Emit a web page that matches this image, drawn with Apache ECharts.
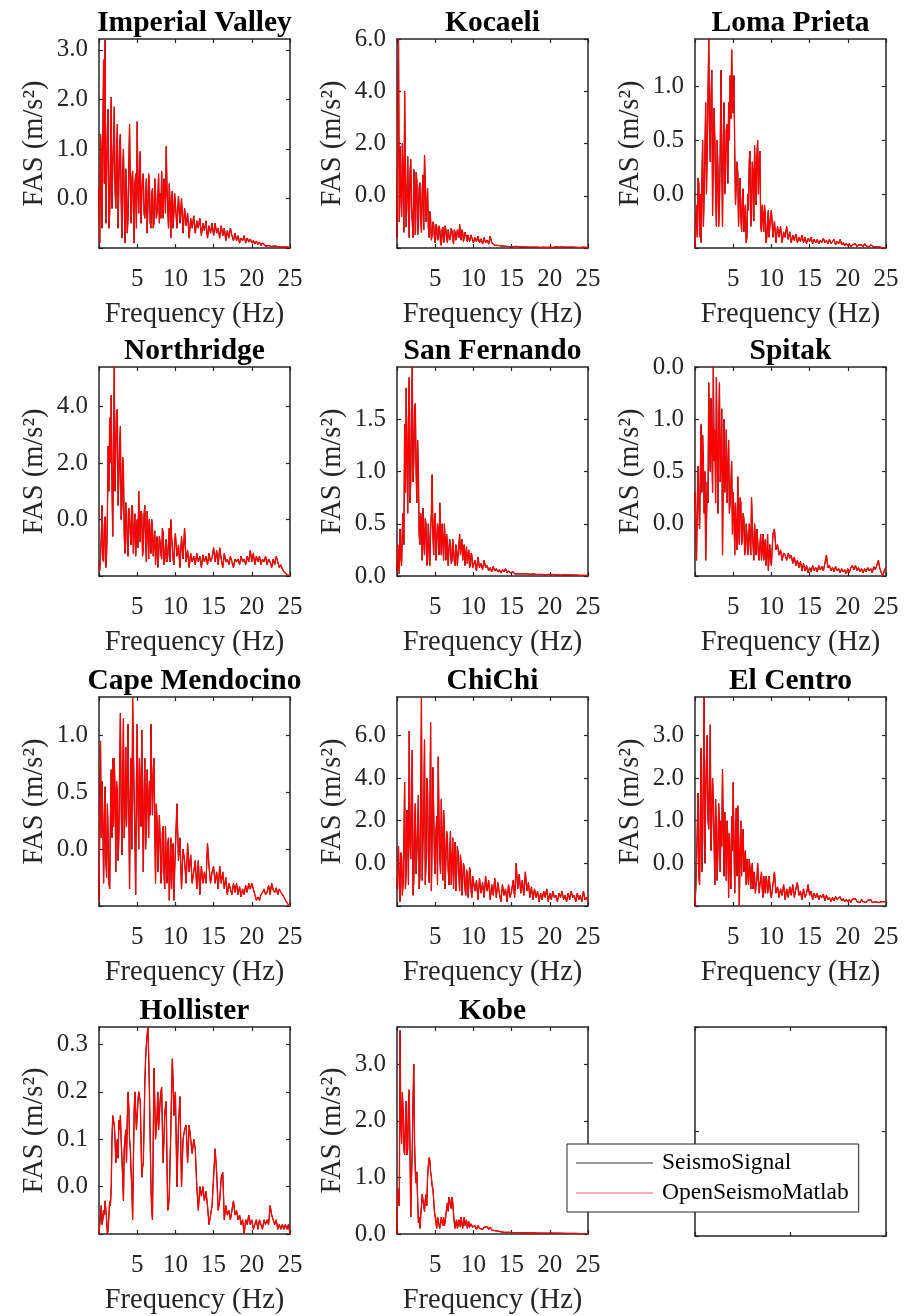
<!DOCTYPE html>
<html>
<head>
<meta charset="utf-8">
<script src="https://cdn.jsdelivr.net/npm/echarts@6/dist/echarts.min.js"></script>
<style>
html,body{margin:0;padding:0;background:#fff;}
#chart{width:907px;height:1316px;}
</style>
</head>
<body>
<div id="chart"></div>
<script>
// ---------- DATA ----------
const freq = [0,0.1,0.2,0.3,0.4,0.5,0.6,0.7,0.8,0.9,1,1.1,1.2,1.3,1.4,1.5,1.6,1.7,1.8,1.9,2,2.1,2.2,2.3,2.4,2.5,2.6,2.7,2.8,2.9,3,3.1,3.2,3.3,3.4,3.5,3.6,3.7,3.8,3.9,4,4.1,4.2,4.3,4.4,4.5,4.6,4.7,4.8,4.9,5,5.1,5.2,5.3,5.4,5.5,5.6,5.7,5.8,5.9,6,6.1,6.2,6.3,6.4,6.5,6.6,6.7,6.8,6.9,7,7.1,7.2,7.3,7.4,7.5,7.6,7.7,7.8,7.9,8,8.1,8.2,8.3,8.4,8.5,8.6,8.7,8.8,8.9,9,9.1,9.2,9.3,9.4,9.5,9.6,9.7,9.8,9.9,
10,10.2,10.4,10.6,10.8,11,11.2,11.4,11.6,11.8,12,12.2,12.4,12.6,12.8,13,13.2,13.4,13.6,13.8,14,14.2,14.4,14.6,14.8,15,15.2,15.4,15.6,15.8,16,16.2,16.4,16.6,16.8,17,17.2,17.4,17.6,17.8,18,18.2,18.4,18.6,18.8,19,19.2,19.4,19.6,19.8,20,20.2,20.4,20.6,20.8,21,21.2,21.4,21.6,21.8,22,22.2,22.4,22.6,22.8,23,23.2,23.4,23.6,23.8,24,24.2,24.4,24.6,24.8,25];

const titles = ['Imperial Valley','Kocaeli','Loma Prieta','Northridge','San Fernando','Spitak','Cape Mendocino','ChiChi','El Centro','Hollister','Kobe'];
const seriesNames = ['SeismoSignal','OpenSeismoMatlab'];
const xName = 'Frequency (Hz)';
const yName = 'FAS (m/s²)';
const xTickValues = [0,5,10,15,20,25];
const xLabelValues = [5,10,15,20,25];

const yMins = [-1,-2,-0.5,-2,0,-0.5,-0.5,-2,-1,-0.1,0];
const yMaxs = [3.22,6,1.44,5.4,2.0,1.5,1.34,7.8,3.9,0.337,3.66];
const yTicks = [
  [-1,0,1,2,3],[-2,0,2,4,6],[-0.5,0,0.5,1],[-2,0,2,4],[0,0.5,1,1.5],[-0.5,0,0.5,1,1.5],
  [-0.5,0,0.5,1],[-2,0,2,4,6],[-1,0,1,2,3],[-0.1,0,0.1,0.2,0.3],[0,1,2,3]
];
const yTickLabels = [
  ['','0.0','1.0','2.0','3.0'],['','0.0','2.0','4.0','6.0'],['','0.0','0.5','1.0'],['','0.0','2.0','4.0'],
  ['0.0','0.5','1.0','1.5'],['','0.0','0.5','1.0','0.0'],['','0.0','0.5','1.0'],['','0.0','2.0','4.0','6.0'],
  ['','0.0','1.0','2.0','3.0'],['','0.0','0.1','0.2','0.3'],['0.0','1.0','2.0','3.0']
];

const imperialValley = [
  0.2,-0.9,1.3,0.9,-0.6,1.2,2.8,0.3,3.2,-0.5, 0.4,1.4,1.8,-0.6,-0.3,0.8,2.05,-0.2,0.6,1.1,
  1.85,0.2,-0.2,0.9,1.5,-0.6,0.3,1.1,1.3,0.0, -0.8,0.5,1.0,0.0,-0.9,0.6,0.2,-0.7,-0.4,0.6,
  1.5,0.2,-0.5,0.4,0.55,-0.2,-0.9,0.3,0.5,-0.6, 1.55,0.2,-0.3,0.6,0.95,-0.5,0.1,0.4,0.5,-0.3,
  -0.4,0.0,0.4,-0.7,-0.2,0.5,0.3,-0.5,-0.6,0.1, 0.2,-0.6,-0.5,0.4,0.15,-0.4,-0.3,0.0,0.5,-0.5,
  0.1,-0.4,0.55,-0.1,-0.4,0.4,0.3,-0.3,1.05,0.2, -0.2,-0.6,0.3,-0.1,-0.8,0.05,0.15,-0.6,-0.3,0.1,
  -0.1,-0.6,0.05,-0.5,0.0, -0.7,-0.2,-0.55,-0.3,-0.8, -0.4,-0.6,-0.35,-0.7,-0.45, -0.6,-0.4,-0.75,-0.5,-0.65, -0.45,-0.8,-0.55,-0.7,-0.5, -0.75,-0.5,-0.7,-0.6,-0.8, -0.55,-0.75,-0.6,-0.85,-0.65, -0.8,-0.6,-0.75,-0.85,-0.7, -0.85,-0.75,-0.9,-0.8,-0.85, -0.75,-0.9,-0.8,-0.88,-0.82, -0.9,-0.85,-0.92,-0.86,-0.93, -0.88,-0.95,-0.9,-0.93,-0.96, -0.92,-0.95,-0.93,-0.97,-0.94, -0.96,-0.93,-0.97,-0.95,-0.98, -0.96,-0.98,-0.95,-0.98,-0.97, -0.99];
const kocaeli = [
  -1.6,2.8,6.0,-1.0,1.9,0.2,-0.8,2.0,0.5,-1.4, 4.0,0.8,-1.2,0.0,1.5,-0.6,-1.6,0.9,1.4,-0.4,
  -1.0,-1.6,1.0,0.2,-1.5,0.9,0.6,-1.5,-1.2,0.3, 0.5,-0.8,-1.4,0.2,0.8,-1.3,1.55,0.5,-1.0,-0.4,
  0.3,-1.2,-1.6,-0.6,-0.9,-1.7,-1.5,-1.0,-1.1,-1.6, -1.8,-1.1,-1.2,-1.7,-1.6,-1.15,-1.3,-1.8,-1.9,-1.3,
  -1.2,-1.8,-1.7,-1.15,-1.3,-1.6,-1.8,-1.3,-1.25,-1.7, -1.6,-1.25,-1.35,-1.6,-1.85,-1.3,-1.4,-1.7,-1.6,-1.3,
  -1.3,-1.6,-1.1,-1.5,-1.7,-1.3,-1.4,-1.75,-1.6,-1.4, -1.5,-1.6,-1.75,-1.5,-1.45,-1.75,-1.7,-1.5,-1.55,-1.7,
  -1.8,-1.6,-1.75,-1.55,-1.8, -1.65,-1.85,-1.6,-1.8,-1.7, -1.85,-1.55,-1.8,-1.75,-1.9, -1.85,-1.9,-1.87,-1.92,-1.88, -1.93,-1.9,-1.94,-1.91,-1.95, -1.92,-1.95,-1.9,-1.94,-1.92, -1.95,-1.93,-1.96,-1.94,-1.96, -1.95,-1.97,-1.95,-1.97,-1.96, -1.97,-1.95,-1.97,-1.96,-1.98, -1.96,-1.97,-1.95,-1.98,-1.97, -1.97,-1.96,-1.98,-1.97,-1.96, -1.98,-1.97,-1.98,-1.96,-1.98, -1.97,-1.98,-1.97,-1.98,-1.97, -1.98,-1.97,-1.98,-1.98,-1.97, -1.98,-1.98,-1.97,-1.98,-1.98, -1.98];
const lomaPrieta = [
  -0.5,-0.3,-0.1,-0.4,0.15,0.1,-0.4,0.0,-0.45,0.1, 0.5,-0.3,0.0,0.4,0.85,0.0,0.4,0.9,1.44,0.6,
  0.3,0.9,1.15,-0.2,0.4,0.8,0.5,0.0,-0.3,0.5, 0.25,-0.3,-0.1,0.4,1.15,0.3,-0.3,0.5,0.85,0.0,
  0.2,0.6,0.65,0.1,0.85,0.5,1.1,0.7,1.34,0.9, 0.75,1.1,0.4,-0.1,-0.1,0.3,0.2,-0.3,0.0,0.15,
  -0.2,-0.35,-0.05,0.05,-0.35,-0.2,-0.1,-0.45,-0.4,0.0, -0.15,0.3,0.4,-0.3,-0.2,0.3,0.2,-0.25,0.45,0.15,
  -0.1,0.35,0.5,0.0,0.3,0.4,-0.3,-0.35,-0.1,-0.2, -0.35,-0.1,-0.2,-0.45,-0.4,-0.25,-0.15,-0.4,-0.3,-0.2,
  -0.15,-0.4,-0.25,-0.45,-0.3, -0.4,-0.3,-0.45,-0.35,-0.4, -0.3,-0.42,-0.35,-0.45,-0.38, -0.43,-0.37,-0.45,-0.4,-0.44, -0.38,-0.45,-0.4,-0.46,-0.41, -0.44,-0.4,-0.46,-0.42,-0.45, -0.42,-0.46,-0.43,-0.45,-0.41, -0.45,-0.43,-0.46,-0.42,-0.46, -0.44,-0.42,-0.47,-0.44,-0.46, -0.42,-0.47,-0.45,-0.48,-0.46, -0.48,-0.46,-0.49,-0.47,-0.48, -0.46,-0.49,-0.47,-0.48,-0.47, -0.49,-0.46,-0.48,-0.47,-0.49, -0.47,-0.48,-0.49,-0.48,-0.49, -0.48,-0.49,-0.49,-0.5,-0.49, -0.5];
const northridge = [
  -1.6,-1.8,-1.3,-0.6,0.5,-1.4,-1.5,-0.2,0.1,-1.7, -1.2,0.2,2.6,1.0,3.6,2.0,4.4,1.2,-0.6,2.6,
  5.4,1.0,2.4,3.8,3.9,0.5,1.5,2.6,3.3,0.0, 0.5,2.2,1.8,-0.5,-1.2,0.6,0.3,-0.8,-1.3,0.4,
  0.2,-0.5,-0.9,0.5,0.3,-1.2,-0.4,0.2,-1.3,-0.6, 0.0,-1.0,1.0,-0.2,-0.8,0.3,0.2,-1.3,-1.0,0.2,
  0.5,-0.8,-1.5,0.3,-0.2,-1.4,0.0,-0.6,-1.2,0.0, -0.3,-1.3,-0.8,-0.4,-1.6,-1.0,-0.6,-1.7,-1.3,-0.6,
  -0.8,-1.2,-1.4,-0.3,-0.5,-1.6,-1.5,-0.9,-0.7,-1.5, -1.3,-0.8,-0.3,-1.5,0.0,-0.6,-1.0,-1.4,-1.6,-0.8,
  -0.5,-1.3,-0.9,-1.7,-0.6, -1.4,-0.3,-1.5,-1.1,-1.7, -1.2,-1.5,-1.3,-1.6,-1.2, -1.5,-1.3,-1.7,-1.25,-1.5, -1.3,-1.6,-1.2,-1.5,-1.35, -1.0,-1.5,-1.1,-1.6,-1.0, -1.4,-1.7,-1.2,-1.5,-1.4, -1.6,-1.3,-1.5,-1.7,-1.4, -1.5,-1.4,-1.6,-1.3,-1.5, -1.4,-1.6,-1.3,-1.5,-1.1, -1.5,-1.2,-1.6,-1.3,-1.5, -1.3,-1.6,-1.4,-1.5,-1.3, -1.6,-1.4,-1.5,-1.7,-1.4, -1.6,-1.3,-1.5,-1.7,-1.6, -1.75,-1.85,-1.9,-1.95,-1.98, -2.0];
const sanFernando = [
  0.05,0.3,0.15,0.02,0.45,0.2,0.1,0.45,0.6,0.3, 1.45,0.8,1.8,1.2,0.6,1.5,1.9,0.7,0.9,1.6,
  2.0,0.9,1.1,1.6,1.65,1.0,0.7,1.3,1.0,0.4, 0.3,0.6,0.5,0.15,0.65,0.35,0.2,0.55,0.5,0.1,
  0.15,0.5,0.3,0.1,0.45,0.6,0.97,0.4,0.2,0.55, 0.6,0.15,0.3,0.5,0.45,0.2,0.7,0.4,0.2,0.5,
  0.35,0.15,0.5,0.35,0.15,0.4,0.3,0.1,0.25,0.35, 0.3,0.12,0.15,0.35,0.25,0.15,0.1,0.3,0.25,0.1,
  0.2,0.3,0.4,0.2,0.3,0.35,0.15,0.25,0.3,0.1, 0.2,0.28,0.12,0.2,0.25,0.08,0.1,0.22,0.2,0.08,
  0.1,0.15,0.05,0.18,0.08, 0.12,0.06,0.15,0.08,0.1, 0.05,0.08,0.04,0.09,0.05, 0.07,0.04,0.06,0.03,0.06, 0.04,0.07,0.03,0.05,0.03, 0.02,0.04,0.02,0.03,0.02, 0.03,0.02,0.03,0.02,0.025, 0.02,0.03,0.015,0.025,0.02, 0.025,0.015,0.02,0.015,0.02, 0.015,0.02,0.012,0.018,0.015, 0.012,0.016,0.01,0.014,0.012, 0.01,0.013,0.009,0.012,0.01, 0.009,0.011,0.008,0.01,0.008, 0.009,0.007,0.009,0.008,0.007, 0.008,0.006,0.007,0.006,0.007, 0.006];
const spitak = [
  0.3,0.0,-0.35,0.2,0.55,0.2,-0.05,0.5,0.95,0.3, 0.85,0.6,0.1,0.5,-0.35,0.0,0.4,0.2,1.35,0.8,
  0.5,1.2,0.75,0.3,1.5,0.6,0.9,0.2,1.4,0.7, 0.1,0.9,1.35,0.4,0.6,1.1,-0.3,0.5,1.0,0.3,
  0.5,0.9,0.2,0.5,0.8,0.1,0.2,0.4,0.6,-0.1, 0.3,0.1,-0.3,0.2,-0.1,-0.25,0.45,0.0,-0.2,0.25,
  0.2,-0.2,-0.15,0.1,0.05,-0.3,-0.25,0.0,-0.1,-0.3, -0.25,0.0,-0.1,-0.3,0.25,0.0,-0.2,-0.35,0.0,-0.15,
  -0.3,-0.05,-0.15,-0.3,-0.35,-0.2,-0.1,-0.35,-0.25,-0.1, -0.35,-0.25,-0.15,-0.4,-0.3,-0.1,-0.45,-0.3,-0.2,-0.35,
  -0.4,-0.1,-0.05,-0.25,-0.2, -0.3,-0.25,-0.35,-0.28,-0.3, -0.35,-0.28,-0.33,-0.3,-0.38, -0.32,-0.4,-0.35,-0.42,-0.36, -0.45,-0.38,-0.45,-0.4,-0.47, -0.42,-0.46,-0.4,-0.45,-0.42, -0.46,-0.4,-0.44,-0.41,-0.45, -0.38,-0.3,-0.42,-0.4,-0.45, -0.42,-0.46,-0.41,-0.45,-0.43, -0.47,-0.43,-0.46,-0.44,-0.48, -0.43,-0.47,-0.42,-0.4,-0.44, -0.4,-0.45,-0.42,-0.46,-0.43, -0.47,-0.43,-0.46,-0.42,-0.45, -0.43,-0.47,-0.41,-0.44,-0.4, -0.35,-0.43,-0.47,-0.5,-0.44, -0.42];
const capeMendocino = [
  -0.45,0.2,0.95,0.1,0.6,0.3,-0.3,0.2,0.55,-0.1, -0.25,0.4,0.1,-0.3,-0.35,0.3,0.7,0.1,0.8,0.2,
  0.8,0.5,-0.2,0.6,0.5,-0.1,0.1,0.7,1.2,0.4, -0.05,0.6,1.15,0.1,0.3,0.9,0.2,0.6,1.1,0.4,
  -0.35,0.5,0.8,0.0,1.34,0.9,0.45,0.1,-0.4,0.6, 1.1,0.4,0.0,0.8,0.5,0.2,1.05,0.4,-0.2,0.5,
  0.8,0.0,0.2,0.7,0.45,0.1,0.6,0.3,1.1,0.6, 0.3,0.7,0.8,0.2,-0.3,0.4,0.25,-0.2,0.0,0.3,
  0.1,-0.3,-0.2,0.15,0.2,-0.2,-0.35,0.2,-0.1,-0.3, 0.05,0.1,-0.45,-0.2,0.1,-0.35,-0.1,0.05,-0.45,-0.2,
  0.0,0.4,-0.1,0.1,-0.35, 0.0,-0.1,-0.3,0.05,-0.2, -0.05,-0.3,-0.2,-0.1,-0.35, -0.1,-0.4,-0.15,-0.3,-0.2, -0.3,0.05,-0.15,-0.3,-0.2, -0.15,-0.3,-0.2,-0.35,-0.15, -0.3,-0.2,-0.35,-0.25,-0.4, -0.3,-0.35,-0.4,-0.3,-0.38, -0.3,-0.4,-0.33,-0.42,-0.35, -0.4,-0.32,-0.38,-0.3,-0.35, -0.3,-0.35,-0.4,-0.45,-0.42, -0.45,-0.4,-0.38,-0.35,-0.4, -0.38,-0.32,-0.4,-0.3,-0.36, -0.38,-0.34,-0.4,-0.35,-0.38, -0.4,-0.42,-0.45,-0.47,-0.49, -0.5];
const chiChi = [
  -1.2,-0.2,0.8,-1.0,-1.8,0.5,0.3,-1.5,-0.9,1.0, 3.8,-1.2,-0.5,2.5,1.5,-1.0,6.2,1.0,0.2,3.0,
  5.3,-1.5,-0.8,2.0,2.8,-0.5,0.5,1.8,3.2,-1.2, -0.6,2.5,7.8,-0.8,1.0,2.5,5.8,-1.0,0.0,4.0,
  3.5,0.5,-0.9,2.0,6.6,-1.3,1.2,4.5,2.5,0.2, -0.5,1.5,2.2,-1.0,5.0,2.0,0.3,-0.5,3.0,1.0,
  -0.8,2.5,1.8,-1.2,0.2,1.5,1.2,-0.3,-1.0,0.5, 1.5,-1.0,0.0,1.2,-1.2,0.3,1.0,-1.3,-0.5,0.8,
  0.5,-0.6,-1.3,0.4,0.0,-1.5,-0.8,0.0,-0.2,-1.2, -1.5,-0.3,-0.5,-1.6,-1.0,-0.2,-0.4,-1.3,-1.6,-0.6,
  -0.6,-1.3,-0.8,-1.7,-0.7, -1.4,-0.9,-1.6,-0.6,-1.3, -0.8,-1.7,-1.0,-1.5,-0.7, -1.6,-0.9,-1.4,-1.8,-1.0, -1.5,-1.2,-1.8,-1.0,-1.6, -1.3,-0.8,-1.6,0.0,-1.2, -0.5,-1.4,-0.8,-1.5,-0.4, -1.3,-0.9,-1.6,-1.1,-1.7, -1.2,-1.6,-1.3,-1.8,-1.4, -1.7,-1.3,-1.6,-1.2,-1.8, -1.4,-1.7,-1.3,-1.6,-1.5, -1.8,-1.4,-1.6,-1.3,-1.7, -1.5,-1.8,-1.4,-1.7,-1.3, -1.6,-1.5,-1.8,-1.4,-1.7, -1.5,-1.8,-1.3,-1.7,-1.6, -1.8];
const elCentro = [
  -1.0,-0.6,0.0,0.8,1.65,-0.3,-0.5,1.2,2.7,-0.2, 0.5,2.2,3.9,0.0,1.5,2.4,3.0,1.0,0.8,2.0,
  3.25,0.3,1.0,2.0,1.5,0.5,-0.5,1.5,0.8,-0.4, 0.3,1.4,0.9,-0.2,1.0,0.4,2.2,0.8,-0.3,1.2,
  0.5,-0.4,1.0,0.6,-0.8,0.7,0.0,-0.6,1.1,0.3, 1.9,0.5,-0.7,0.6,1.3,-0.3,1.35,0.7,-1.0,0.2,
  1.0,-0.3,0.5,0.8,-0.2,0.2,0.3,-0.5,0.1,-0.2, -0.5,0.1,-0.1,-0.6,-0.2,0.0,-0.6,-0.2,-0.3,-0.7,
  -0.5,-0.4,0.0,-0.3,-0.7,-0.5,-0.4,-0.2,-0.6,-0.8, -0.3,-0.5,-0.7,-0.3,-0.4,-0.7,-0.6,-0.3,-0.5,-0.75,
  -0.8,-0.5,-0.2,-0.7,-0.55, -0.8,-0.6,-0.75,-0.5,-0.85, -0.6,-0.8,-0.55,-0.75,-0.5, -0.8,-0.6,-0.45,-0.75,-0.65, -0.85,-0.6,-0.8,-0.7,-0.5, -0.75,-0.65,-0.85,-0.7,-0.8, -0.7,-0.85,-0.75,-0.8,-0.72, -0.88,-0.75,-0.85,-0.8,-0.9, -0.8,-0.88,-0.78,-0.85,-0.82, -0.78,-0.88,-0.83,-0.9,-0.85, -0.9,-0.85,-0.92,-0.84,-0.88, -0.83,-0.9,-0.86,-0.92,-0.85, -0.9,-0.86,-0.92,-0.87,-0.9, -0.85,-0.92,-0.88,-0.9,-0.86, -0.92,-0.88,-0.9,-0.86,-0.9, -0.88];
const hollister = [
  -0.1,-0.08,-0.06,-0.04,-0.08,-0.07,-0.05,-0.06,-0.03,-0.05, -0.07,-0.1,-0.09,-0.06,-0.03,-0.04,0.0,0.1,0.15,0.14,
  0.13,0.1,0.05,0.08,0.1,0.06,0.14,0.12,0.15,0.1, 0.06,0.02,-0.03,0.08,0.1,0.12,0.05,0.14,0.2,0.17,
  0.1,0.08,0.03,0.0,-0.07,0.05,0.16,0.2,0.2,0.12, 0.15,0.18,0.2,0.19,0.18,0.1,0.02,0.04,0.05,0.13,
  0.22,0.27,0.3,0.32,0.337,0.28,0.2,0.1,0.0,-0.05, -0.07,0.1,0.25,0.18,0.1,0.12,0.15,0.2,0.12,0.15,
  0.18,0.2,0.21,0.12,0.05,0.1,0.15,0.17,0.18,0.05, -0.05,-0.04,-0.02,0.05,0.12,0.2,0.27,0.22,0.15,0.18,
  0.2,0.0,0.13,0.19,0.0, 0.1,0.12,0.13,0.05,0.13, 0.1,0.07,0.1,0.08,0.0, -0.05,0.0,-0.02,0.0,-0.03, -0.01,-0.04,-0.08,-0.06,-0.04, 0.02,0.08,0.03,-0.05,-0.03, 0.02,0.03,-0.07,-0.04,-0.06, -0.05,-0.07,-0.05,-0.03,-0.06, -0.05,-0.07,-0.06,-0.08,-0.07, -0.1,-0.07,-0.08,-0.06,-0.08, -0.07,-0.09,-0.08,-0.07,-0.09, -0.07,-0.08,-0.09,-0.07,-0.08, -0.07,-0.08,-0.04,-0.06,-0.07, -0.08,-0.07,-0.09,-0.08,-0.09, -0.08,-0.09,-0.08,-0.09,-0.08, -0.1];
const kobe = [
  0.0,0.8,0.6,0.5,3.6,2.0,1.6,2.5,2.2,1.5, 1.4,2.0,2.35,1.4,1.5,2.3,2.55,1.5,0.3,1.0,
  1.5,2.4,3.0,1.6,1.1,0.9,1.1,0.6,0.2,0.3, 0.1,0.3,0.5,0.7,0.7,0.5,0.4,0.6,0.7,0.5,
  1.0,1.2,1.35,1.3,1.1,1.0,0.85,0.8,0.6,0.4, 0.3,0.2,0.1,0.3,0.25,0.15,0.1,0.2,0.3,0.2,
  0.15,0.3,0.15,0.2,0.35,0.45,0.55,0.4,0.65,0.6, 0.5,0.45,0.65,0.55,0.35,0.2,0.1,0.2,0.25,0.1,
  0.15,0.25,0.2,0.12,0.3,0.2,0.1,0.2,0.3,0.15, 0.2,0.25,0.1,0.15,0.22,0.12,0.1,0.18,0.15,0.12,
  0.1,0.15,0.08,0.15,0.1, 0.12,0.08,0.12,0.1,0.13, 0.08,0.12,0.07,0.1,0.06, 0.08,0.05,0.06,0.04,0.05, 0.03,0.04,0.03,0.035,0.03, 0.035,0.025,0.03,0.025,0.03, 0.025,0.03,0.02,0.025,0.02, 0.025,0.02,0.025,0.018,0.02, 0.018,0.022,0.016,0.02,0.015, 0.02,0.015,0.018,0.014,0.017, 0.015,0.013,0.016,0.012,0.014, 0.012,0.014,0.011,0.013,0.01, 0.012,0.01,0.011,0.009,0.01, 0.009,0.01,0.008,0.009,0.008, 0.008,0.007,0.008,0.006,0.007, 0.006];

const panelValues = [imperialValley,kocaeli,lomaPrieta,northridge,sanFernando,spitak,capeMendocino,chiChi,elCentro,hollister,kobe];

// ---------- LAYOUT ----------
const colLeft = [99, 397, 695];
const rowTop = [39, 367, 697, 1027];
const W = 191, H = 209;
const AX = '#262626';
const FONT = '"Liberation Serif", "Times New Roman", serif';

const grid = [], xAxis = [], yAxis = [], series = [], graphic = [];

function boxAxes(i, xmin, xmax, ymin, ymax, xt, yt, withLabels, yLabelFn) {
  const lineStyle = { color: AX, width: 1.5 };
  const tickStyle = { color: AX, width: 1.2 };
  xAxis.push({
    gridIndex: i, type: 'value', min: xmin, max: xmax, position: 'bottom',
    axisLine: { show: true, onZero: false, lineStyle },
    axisTick: { show: true, inside: true, length: 4, customValues: xt, lineStyle: tickStyle },
    axisLabel: withLabels ? { show: true, customValues: xLabelValues, margin: 19, fontSize: 25, fontFamily: FONT, color: AX } : { show: false },
    splitLine: { show: false },
    name: withLabels ? xName : '', nameLocation: 'middle', nameGap: 52,
    nameTextStyle: { fontSize: 28.5, fontFamily: FONT, color: AX }
  });
  xAxis.push({
    gridIndex: i, type: 'value', min: xmin, max: xmax, position: 'top',
    axisLine: { show: true, onZero: false, lineStyle },
    axisTick: { show: true, inside: true, length: 4, customValues: xt, lineStyle: tickStyle },
    axisLabel: { show: false }, splitLine: { show: false }
  });
  yAxis.push({
    gridIndex: i, type: 'value', min: ymin, max: ymax, position: 'left',
    axisLine: { show: true, onZero: false, lineStyle },
    axisTick: { show: true, inside: true, length: 4, customValues: yt, lineStyle: tickStyle },
    axisLabel: withLabels ? { show: true, customValues: yt, margin: 11, fontSize: 25, fontFamily: FONT, color: AX, formatter: yLabelFn } : { show: false },
    splitLine: { show: false },
    name: withLabels ? yName : '', nameLocation: 'middle', nameRotate: 90, nameGap: 50,
    nameTextStyle: { fontSize: 28.5, fontFamily: FONT, color: AX }
  });
  yAxis.push({
    gridIndex: i, type: 'value', min: ymin, max: ymax, position: 'right',
    axisLine: { show: true, onZero: false, lineStyle },
    axisTick: { show: true, inside: true, length: 4, customValues: yt, lineStyle: tickStyle },
    axisLabel: { show: false }, splitLine: { show: false }
  });
}

for (let i = 0; i < 12; i++) {
  const r = Math.floor(i / 3), c = i % 3;
  grid.push({ left: colLeft[c], top: rowTop[r], width: W, height: H });
  if (i < titles.length) {
    const ticks = yTicks[i], labs = yTickLabels[i];
    const fmt = v => { const k = ticks.findIndex(t => Math.abs(t - v) < 1e-9); return k >= 0 ? labs[k] : ''; };
    boxAxes(i, 0, 25, yMins[i], yMaxs[i], xTickValues, ticks, true, fmt);
    const vals = panelValues[i];
    const pts = vals.map((v, k) => [freq[k], v]);
    series.push({
      type: 'line', name: seriesNames[0], xAxisIndex: 2 * i, yAxisIndex: 2 * i, data: pts,
      symbol: 'none', z: 2, animation: false,
      lineStyle: { color: '#000000', width: 1 }, itemStyle: { color: '#000000' }
    });
    series.push({
      type: 'line', name: seriesNames[1], xAxisIndex: 2 * i, yAxisIndex: 2 * i, data: pts,
      symbol: 'none', z: 3, animation: false,
      lineStyle: { color: '#ff0000', width: 1.3 }, itemStyle: { color: '#ff0000' }
    });
    graphic.push({
      type: 'text', x: colLeft[c] + W / 2, y: rowTop[r] - 16, z: 10,
      style: { text: titles[i], font: 'bold 29.5px ' + FONT, fill: '#000', align: 'center', verticalAlign: 'middle' }
    });
  } else {
    boxAxes(i, 0, 1, 0, 1, [0, 0.5, 1], [0, 0.5, 1], false, null);
  }
}

const chart = echarts.init(document.getElementById('chart'), null, { renderer: 'canvas' });
chart.setOption({
  backgroundColor: '#ffffff',
  animation: false,
  grid, xAxis, yAxis, series, graphic,
  legend: {
    data: [
      { name: seriesNames[0], icon: 'rect', itemStyle: { color: '#333333' } },
      { name: seriesNames[1], icon: 'rect', itemStyle: { color: '#ff6060' } }
    ],
    orient: 'vertical', left: 567, top: 1144,
    itemWidth: 77, itemHeight: 1, itemGap: 6,
    padding: [7, 10, 7, 9],
    backgroundColor: '#ffffff', borderColor: AX, borderWidth: 1, borderRadius: 0,
    textStyle: { fontSize: 23.5, fontFamily: FONT, color: '#000', padding: [0, 0, 0, 4] },
    selectedMode: false, z: 20
  }
});
</script>
</body>
</html>
